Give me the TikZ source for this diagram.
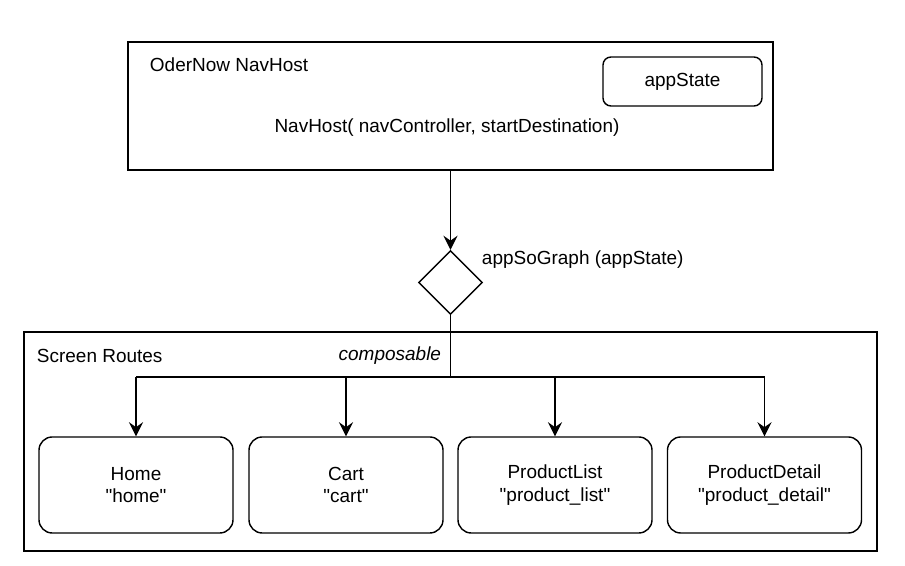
\documentclass[tikz,border=0pt]{standalone}
\usepackage{fontspec}
\setmainfont{Liberation Sans}
\usetikzlibrary{shapes.geometric}
\usetikzlibrary{arrows.meta}

\begin{document}
\begin{tikzpicture}[
    font=\fontsize{13.5}{16}\selectfont,
    frame/.style={draw, line width=1pt, inner sep=0pt},
    screen/.style={draw, line width=1pt, rounded corners=0.33cm, minimum width=4.85cm, minimum height=2.4cm, align=center},
    link/.style={line width=1.1pt, -{Stealth[length=10pt, width=10pt, inset=3.5pt]}}
]
    \useasboundingbox (0, 0) rectangle (22.625, 14.15);

    % NavHost
    \node[frame, minimum width=16.125cm, minimum height=3.2cm] (navhost) at (11.2625, 11.5) {};
    \node[anchor=west] (hostlabel) at (3.625, 12.525) {OderNow NavHost};
    \node[draw, line width=1pt, rounded corners=0.2cm, minimum width=3.975cm, minimum height=1.225cm] (appstate) at (17.0625, 12.1125) {appState};
    \node (navcall) at (11.175, 10.95) {NavHost( navController, startDestination)};

    % Graph
    \node[frame, diamond, minimum width=1.6cm, minimum height=1.6cm] (graph) at (11.2625, 7.0875) {};
    \node[anchor=west] (graphlabel) at (11.925, 7.65) {appSoGraph (appState)};

    % Screen Routes
    \node[frame, minimum width=21.325cm, minimum height=5.475cm] (routes) at (11.2625, 3.1125) {};
    \node[anchor=west] (routeslabel) at (0.8, 5.25) {Screen Routes};
    \node[anchor=east] (composable) at (11.15, 5.25) {\itshape composable};

    % Screens
    \node[screen] (home) at (3.4, 2.025) {Home\\\textquotedbl home\textquotedbl};
    \node[screen] (cart) at (8.65, 2.025) {Cart\\\textquotedbl cart\textquotedbl};
    \node[screen] (list) at (13.875, 2.025) {ProductList\\\textquotedbl product\_list\textquotedbl};
    \node[screen] (detail) at (19.1125, 2.025) {ProductDetail\\\textquotedbl product\_detail\textquotedbl};

    % Links
    \coordinate (split) at (11.2625, 4.725);
    \draw[link] (navhost.south) -- (graph.north);
    \draw[line width=1.1pt] (graph.south) -- (split);
    \draw[line width=1.1pt] (home.north |- split) -- (detail.north |- split);
    \foreach \s in {home, cart, list, detail}
        \draw[link] (\s.north |- split) -- (\s.north);
\end{tikzpicture}
\end{document}
